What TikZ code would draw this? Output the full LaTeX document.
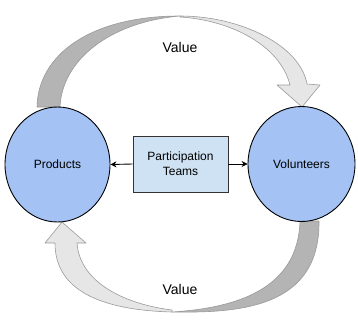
\documentclass[tikz,border=0pt]{standalone}
\usepackage{fontspec}
\setmainfont{Liberation Sans}
\usetikzlibrary{shapes.geometric,arrows.meta}
\definecolor{circfill}{HTML}{A4C2F4}
\definecolor{boxfill}{HTML}{CFE2F3}
\definecolor{darkband}{HTML}{B4B4B4}
\definecolor{lightband}{HTML}{E6E6E6}
\definecolor{bandline}{HTML}{9A9A9A}
\tikzset{
  actor/.style={ellipse, draw=black, line width=0.9pt, fill=circfill, minimum width=105pt, minimum height=115pt, inner sep=0pt, font=\fontsize{12}{14}\selectfont},
  teambox/.style={rectangle, draw=black!80, line width=0.9pt, fill=boxfill, minimum width=95pt, minimum height=56pt, inner sep=0pt, align=center, font=\fontsize{12}{15}\selectfont},
  link/.style={-{Stealth[length=6pt,width=6pt]}, line width=0.9pt, black},
  bandA/.style={fill=darkband, draw=bandline, line width=0.6pt, line join=round},
  bandB/.style={fill=lightband, draw=bandline, line width=0.6pt, line join=round},
  lbl/.style={font=\fontsize{14}{16}\selectfont}
}
\begin{document}
\begin{tikzpicture}[x=1pt,y=-1pt]
\useasboundingbox (0,0) rectangle (358,321);
% top curved arrow
\draw[bandA] (37,107) .. controls (38,55) and (90,16) .. (180,16)
  .. controls (110,22) and (62,60) .. (60,107) -- cycle;
\draw[bandB] (180,16) .. controls (240,16) and (300,45) .. (307,84)
  -- (320,85) -- (302,107) -- (277,85) -- (290,85)
  .. controls (280,45) and (230,20) .. (180,17) -- cycle;
% bottom curved arrow
\draw[bandA] (319,221) .. controls (320,308) and (240,313) .. (172,312)
  .. controls (235,308) and (298,290) .. (300,221) -- cycle;
\draw[bandB] (172,312) .. controls (100,310) and (55,290) .. (55,243)
  -- (45,243) -- (62,222) -- (86,243) -- (77,243)
  .. controls (80,285) and (130,305) .. (172,310) -- cycle;
% nodes
\node[actor] (prod) at (57.5,164.5) {Products};
\node[actor, minimum width=107pt] (vol) at (301.5,164) {Volunteers};
\node[teambox] (team) at (180.5,164) {Participation\\Teams};
\node[lbl] (v1) at (180,47) {Value};
\node[lbl] (v2) at (180,289) {Value};
% connectors
\draw[link] (team.west) -- (prod.east);
\draw[link] (team.east) -- (vol.west);
\end{tikzpicture}
\end{document}
